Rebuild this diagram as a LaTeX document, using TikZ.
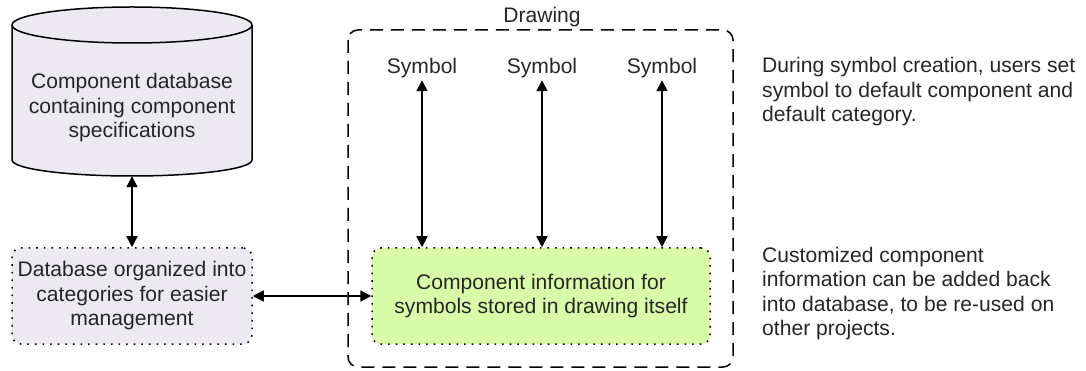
\documentclass[tikz,border=0pt]{standalone}
\usepackage{fontspec}
\setmainfont{Liberation Sans}
\usetikzlibrary{arrows.meta}
\definecolor{txt}{HTML}{262626}
\definecolor{lav}{HTML}{ECE9F1}
\definecolor{grn}{HTML}{D9FCA9}
\tikzset{
  every node/.style={font=\fontsize{21.1}{24.5}\selectfont, text=txt},
  conn/.style={line width=1.6pt, {Triangle[length=11pt,width=11pt]}-{Triangle[length=11pt,width=11pt]}},
  dotbox/.style={draw, line width=1.5pt, dash pattern=on 1.6pt off 6pt, rounded corners=9pt, align=center, inner sep=0pt},
  symb/.style={inner sep=0pt, minimum height=24pt},
  note/.style={align=left, anchor=west, inner sep=0pt}
}
\begin{document}
\begin{tikzpicture}[x=1pt,y=1pt]
\useasboundingbox (0,0) rectangle (1086,-371);
% cylinder
\path[draw=black, line width=1.5pt, fill=lav] (12,-25) -- (12,-160)
  arc[start angle=180, end angle=360, x radius=120, y radius=16] -- (252,-25)
  arc[start angle=0, end angle=180, x radius=120, y radius=18] -- cycle;
\draw[line width=1.5pt] (12,-25) arc[start angle=180, end angle=360, x radius=120, y radius=18];
\node[minimum width=240pt, minimum height=169pt, inner sep=0pt, align=center] (cyl) at (132,-91.5) {};
\node[align=center, inner sep=0pt] (cyltext) at (132,-108) {Component database\\containing component\\specifications};
% category box
\node[dotbox, fill=lav, minimum width=240pt, minimum height=96pt] (cat) at (132,-296)
  {Database organized into\\categories for easier\\management};
% drawing frame
\draw[line width=1.5pt, dash pattern=on 13pt off 8pt, rounded corners=10pt] (348,-30) rectangle (733,-367);
\node[inner sep=0pt] (drawlabel) at (542,-17) {Drawing};
% green box
\node[dotbox, fill=grn, minimum width=338pt, minimum height=96pt] (comp) at (541,-296)
  {Component information for\\symbols stored in drawing itself};
% symbols
\node[symb] (s1) at (422,-68) {Symbol};
\node[symb] (s2) at (542,-68) {Symbol};
\node[symb] (s3) at (662,-68) {Symbol};
% connectors
\draw[conn] (cyl.south) -- (cat.north);
\draw[conn] (cat.east) -- (comp.west);
\draw[conn] (s1.south) -- (s1.south |- comp.north);
\draw[conn] (s2.south) -- (s2.south |- comp.north);
\draw[conn] (s3.south) -- (s3.south |- comp.north);
% notes
\node[note] (note1) at (762,-92) {During symbol creation, users set\\symbol to default component and\\default category.};
\node[note] (note2) at (762,-293.5) {Customized component\\information can be added back\\into database, to be re-used on\\other projects.};
\end{tikzpicture}
\end{document}
